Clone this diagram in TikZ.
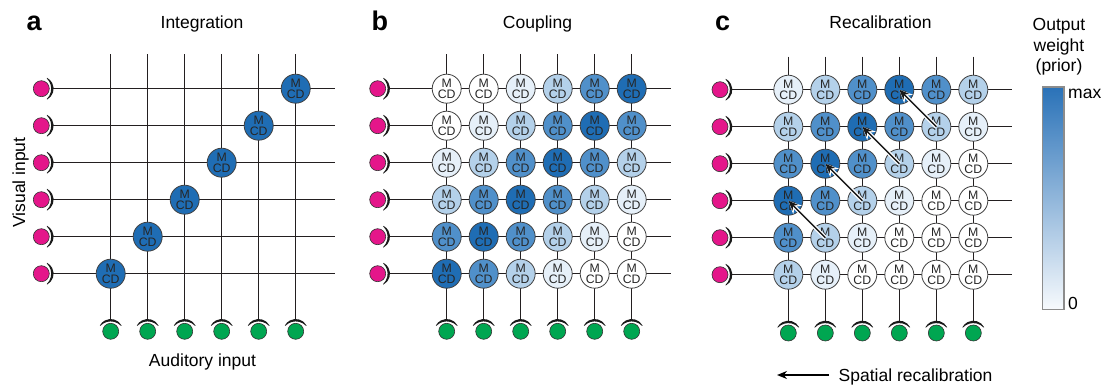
\documentclass[tikz,border=0pt]{standalone}
\usepackage{fontspec}
\setmainfont{Liberation Sans}
\usetikzlibrary{arrows.meta}

\definecolor{wirec}{HTML}{231F20}
\definecolor{vmag}{HTML}{E4168A}
\definecolor{agrn}{HTML}{00A651}
\definecolor{lv0}{HTML}{FFFFFF}
\definecolor{lv1}{HTML}{E6F0F9}
\definecolor{lv2}{HTML}{B4D1EA}
\definecolor{lv3}{HTML}{5090CA}
\definecolor{lv4}{HTML}{1F6DB4}
\definecolor{barlo}{HTML}{F7FAFD}
\definecolor{barhi}{HTML}{2A72B8}

\tikzset{
  wire/.style={draw=wirec, line width=1.45pt},
  mcd/.style={circle, minimum size=29pt, inner sep=0pt, draw=black!75, line width=0.8pt,
    align=center, font=\fontsize{12.3}{11.6}\selectfont, text=black!85},
  vin/.style={circle, minimum size=16pt, inner sep=0pt, fill=vmag, draw=black!80, line width=0.6pt},
  ain/.style={circle, minimum size=16pt, inner sep=0pt, fill=agrn, draw=black!80, line width=0.6pt},
  cupfill/.style={fill=black!90},
  ttl/.style={font=\fontsize{17.5}{21}\selectfont, anchor=base, inner sep=0pt},
  lbl/.style={font=\fontsize{27}{27}\bfseries\selectfont, anchor=base west, inner sep=0pt},
  recal/.style={draw=black!90, line width=1.5pt, -{Stealth[length=10pt,width=8pt]}},
  halo/.style={draw=white, line width=4pt, -{Stealth[length=13pt,width=12pt]}},
}

% crescent-shaped receptor cup around an input neuron; #2 turns it
\newcommand\cupat[2]{%
  \fill[cupfill, shift={(#1)}, rotate=#2]
    (-62:12.3pt) arc[start angle=-62, end angle=62, radius=12.3pt]
    -- (62:11.7pt) arc[start angle=46.2, end angle=-46.2, radius=14.3pt] -- cycle;}

% input neurons, receptor cups and the wiring of one 6x6 map
% #1 prefix, #2 first column x, #3 first row y, #4 row pitch,
% #5 top of the vertical wires, #6 auditory input y, #7 visual input x
\newcommand\wiregrid[7]{%
  \foreach \r in {1,...,6}{
    \node[vin] (#1v\r) at (#7, {#3+(\r-1)*#4}) {};
    \cupat{#1v\r.center}{0}
    \coordinate (#1e\r) at ({#2+5*37+39}, {#3+(\r-1)*#4});
    \draw[wire] ([xshift=12pt]#1v\r.center) -- (#1e\r);
  }
  \foreach \c in {1,...,6}{
    \node[ain] (#1a\c) at ({#2+(\c-1)*37}, #6) {};
    \cupat{#1a\c.center}{90}
    \coordinate (#1t\c) at ({#2+(\c-1)*37}, #5);
    \draw[wire] (#1t\c) -- ([yshift=12pt]#1a\c.center);
  }
}

\begin{document}
\begin{tikzpicture}[x=1pt, y=-1pt]
\fill[white] (0,0) rectangle (1108,388);
\useasboundingbox (0,0) rectangle (1108,388);

% ---------------- a: integration ----------------
\wiregrid{a}{110.7}{88.7}{37}{54.3}{331.3}{41.3}
\foreach \r in {1,...,6}{
  \pgfmathtruncatemacro\c{7-\r}
  \node[mcd, fill=lv4] (ad\r) at ({110.7+(\c-1)*37}, {88.7+(\r-1)*37}) {M\\CD};
}
\node[lbl] (la) at (26.5,30) {a};
\node[ttl] (ta) at (202,28.5) {Integration};
\node[ttl] (aud) at (202.5,366) {Auditory input};
\node[ttl, rotate=90] (vis) at (25,182.5) {Visual input};

% ---------------- b: coupling ----------------
\wiregrid{b}{446.7}{88.7}{37}{54.3}{331.3}{377.7}
\foreach \r in {1,...,6}{
  \foreach \c in {1,...,6}{
    \pgfmathtruncatemacro\lv{max(0,4-abs(\c+\r-7))}
    \node[mcd, fill=lv\lv] (b\r\c) at ({446.7+(\c-1)*37}, {88.7+(\r-1)*37}) {M\\CD};
  }
}
\node[lbl] (lb) at (371.5,30) {b};
\node[ttl] (tb) at (537.5,28.5) {Coupling};

% ---------------- c: recalibration ----------------
\wiregrid{c}{788.3}{89.7}{37}{56.5}{333}{720}
\foreach \r in {1,...,6}{
  \foreach \c in {1,...,6}{
    \pgfmathtruncatemacro\lv{max(0,4-abs(\c+\r-5))}
    \node[mcd, fill=lv\lv] (c\r\c) at ({788.3+(\c-1)*37}, {89.7+(\r-1)*37}) {M\\CD};
  }
}
\foreach \r/\c in {2/5,3/4,4/3,5/2}{
  \pgfmathtruncatemacro\rr{\r-1}
  \pgfmathtruncatemacro\cc{\c-1}
  \draw[halo] (c\r\c.center) -- (c\rr\cc.center);
  \draw[recal] (c\r\c.center) -- (c\rr\cc.center);
}
\node[lbl] (lc) at (715,30) {c};
\node[ttl] (tc) at (880.5,28.5) {Recalibration};

\coordinate (sr0) at (829,375);
\coordinate (sr1) at (777,375);
\draw[line width=1.5pt, -{Stealth[length=10pt,width=8pt]}] (sr0) -- (sr1);
\node[ttl, anchor=base west] (srt) at (838.5,381) {Spatial recalibration};

% ---------------- colour scale ----------------
\shade[top color=barhi, bottom color=barlo] (1042.5,87) rectangle (1064,309.5);
\draw[draw=black!45, line width=1.2pt] (1042.5,87) rectangle (1064,309.5);
\node[ttl] (ow1) at (1059,30.7) {Output};
\node[ttl] (ow2) at (1059,51) {weight};
\node[ttl] (ow3) at (1059,71.5) {(prior)};
\node[ttl, anchor=base west] (bmax) at (1068,98.3) {max};
\node[ttl, anchor=base west] (bmin) at (1068,309) {0};
\end{tikzpicture}
\end{document}
